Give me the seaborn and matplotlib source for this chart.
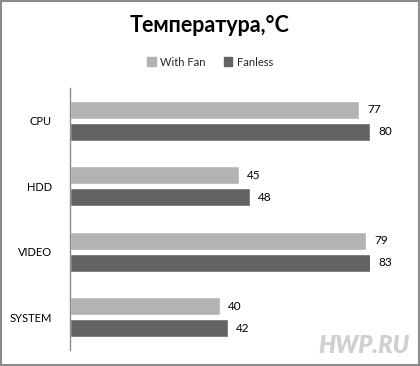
import matplotlib
matplotlib.use("Agg")
import matplotlib.pyplot as plt
import seaborn as sns
import pandas as pd
from matplotlib.patches import Rectangle

categories = ["CPU", "HDD", "VIDEO", "SYSTEM"]
with_fan = [77, 45, 79, 40]
fanless = [80, 48, 83, 42]
series_names = ["With Fan", "Fanless"]
title = "Температура,°С"
xmax = 80

sns.set_theme(style="white")
plt.rcParams['font.family'] = ['Lato', 'DejaVu Sans']

df = pd.DataFrame({
    "cat": categories * 2,
    "val": with_fan + fanless,
    "series": [series_names[0]] * 4 + [series_names[1]] * 4,
})

fig = plt.figure(figsize=(4.2, 3.66), dpi=100)
ax = fig.add_axes([70/420, 1-350/366, 300/420, 262/366])
sns.barplot(data=df, y="cat", x="val", hue="series", orient="h",
            palette=["#b3b3b3", "#636363"], width=0.67, gap=0.18,
            ax=ax, legend=False, saturation=1)
ax.set_xlim(0, xmax)
ax.set_xlabel("")
ax.set_ylabel("")
ax.set_xticks([])
for s in ["top", "right", "bottom"]:
    ax.spines[s].set_visible(False)
ax.spines["left"].set_color("#8c8c8c")
ax.spines["left"].set_linewidth(1)
ax.tick_params(axis="y", length=0, pad=13, labelsize=8, labelcolor="black")

for cont in ax.containers:
    for bar, v in zip(cont, cont.datavalues):
        y = bar.get_y() + bar.get_height() / 2
        ax.annotate(f"{v:g}", xy=(min(v, xmax), y), xytext=(6, 0),
                    textcoords="offset points", va="center", ha="left",
                    fontsize=8.5, color="black", annotation_clip=False)

fig.text(0.5, 1-25/366, title, ha="center", va="center",
         fontsize=15.5, fontweight="bold", color="black")

handles = [Rectangle((0, 0), 1, 1, color=c) for c in ["#b3b3b3", "#636363"]]
fig.legend(handles, series_names, loc="center", bbox_to_anchor=(0.5, 1-62/366),
           ncol=2, frameon=False, fontsize=8, handlelength=0.8, handleheight=0.8,
           handletextpad=0.4, columnspacing=1.6)

fig.text(0.975, 0.025, "HWP.RU", ha="right", va="bottom", fontsize=17,
         fontstyle="italic", fontweight="heavy", color="#d0d0d0")

fig.patches.append(Rectangle((0.002, 0.003), 0.995, 0.994, transform=fig.transFigure,
                             fill=False, edgecolor="#8c8c8c", linewidth=1.5))

fig.savefig("out.png", dpi=100)
